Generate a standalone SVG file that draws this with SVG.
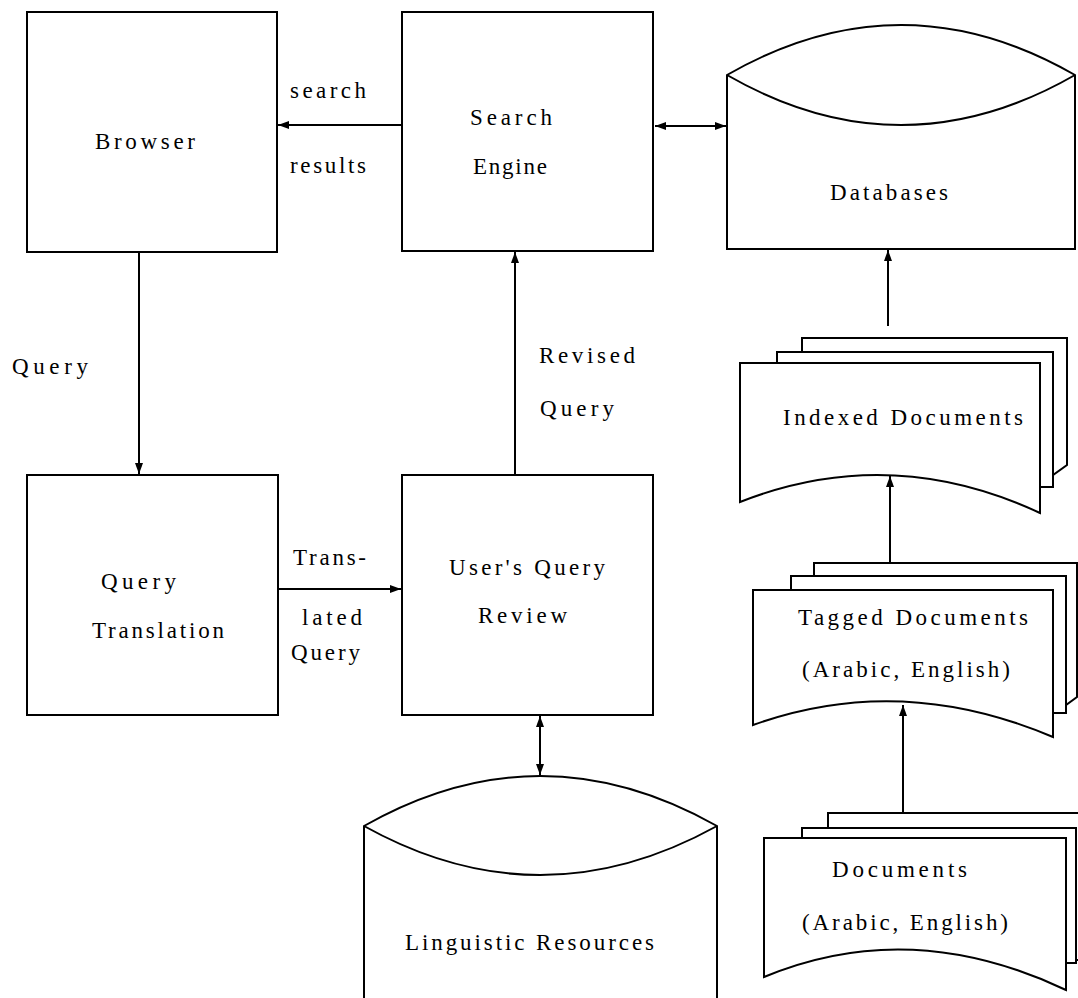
<svg xmlns="http://www.w3.org/2000/svg" width="1078" height="998" viewBox="0 0 1078 998">
<style>
.s{fill:#fff;stroke:#000;stroke-width:2;stroke-linejoin:miter}
.c{fill:none;stroke:#000;stroke-width:2}
text{font-family:"Liberation Serif","Times New Roman",serif;font-size:23px;fill:#000}
</style>
<defs>
<marker id="ah" markerUnits="userSpaceOnUse" markerWidth="12" markerHeight="10" refX="11" refY="5" orient="auto-start-reverse" viewBox="0 0 12 10">
<path d="M0,1 L11,5 L0,9 z" fill="#000"/>
</marker>
</defs>
<rect width="1078" height="998" fill="#fff"/>
<g id="browser">
<rect class="s" x="27" y="12" width="250" height="240"/>
<text x="95" y="149" textLength="100" lengthAdjust="spacing">Browser</text>
</g>
<g id="search-engine">
<rect class="s" x="402" y="12" width="251" height="239"/>
<text x="470" y="125" textLength="82" lengthAdjust="spacing">Search</text>
<text x="473" y="174" textLength="74" lengthAdjust="spacing">Engine</text>
</g>
<g id="databases">
<path class="s" d="M727,75 Q901,-25 1075,75 V249 H727 Z"/>
<path class="c" d="M727,75 Q901,175 1075,75"/>
<text x="830" y="200" textLength="118" lengthAdjust="spacing">Databases</text>
</g>
<g id="query-translation">
<rect class="s" x="27" y="475" width="251" height="240"/>
<text x="101" y="589" textLength="75" lengthAdjust="spacing">Query</text>
<text x="92" y="638" textLength="132" lengthAdjust="spacing">Translation</text>
</g>
<g id="users-query-review">
<rect class="s" x="402" y="475" width="251" height="240"/>
<text x="449" y="575" textLength="156" lengthAdjust="spacing">User's Query</text>
<text x="478" y="623" textLength="89" lengthAdjust="spacing">Review</text>
</g>
<g id="linguistic-resources">
<path class="s" d="M364,1000 V826 Q540,726 717,826 V1000"/>
<path class="c" d="M364,826 Q540,924 717,826"/>
<text x="405" y="950" textLength="249" lengthAdjust="spacing">Linguistic Resources</text>
</g>
<g id="indexed-documents">
<path class="s" d="M802,352 V338 H1067 V465 L1053,475 V352 Z"/>
<path class="s" d="M777,363 V352 H1053 V487 H1040 V363 Z"/>
<path class="s" d="M740,363 H1040 V513 Q890,443 740,502 Z"/>
<text x="783" y="425" textLength="240" lengthAdjust="spacing">Indexed Documents</text>
</g>
<g id="tagged-documents">
<path class="s" d="M814,576 V563 H1077 V697 L1066,705 V576 Z"/>
<path class="s" d="M791,590 V576 H1066 V713 H1053 V590 Z"/>
<path class="s" d="M753,590 H1053 V737 Q900,672 753,725 Z"/>
<text x="798" y="625" textLength="230" lengthAdjust="spacing">Tagged Documents</text>
<text x="802" y="677" textLength="208" lengthAdjust="spacing">(Arabic, English)</text>
</g>
<g id="documents">
<path class="s" d="M828,828 V813 H1080 V960 H1076 V828 Z"/>
<path class="s" d="M802,838 V828 H1076 V963 H1066 V838 Z"/>
<path class="s" d="M764,838 H1066 V990 Q910,916 764,977 Z"/>
<text x="832" y="877" textLength="135" lengthAdjust="spacing">Documents</text>
<text x="802" y="930" textLength="206" lengthAdjust="spacing">(Arabic, English)</text>
</g>
<g id="connectors">
<line class="c" x1="402" y1="125" x2="278" y2="125" marker-end="url(#ah)"/>
<line class="c" x1="655" y1="126" x2="726" y2="126" marker-start="url(#ah)" marker-end="url(#ah)"/>
<line class="c" x1="139" y1="252" x2="139" y2="474" marker-end="url(#ah)"/>
<line class="c" x1="278" y1="589" x2="401" y2="589" marker-end="url(#ah)"/>
<line class="c" x1="515" y1="475" x2="515" y2="252" marker-end="url(#ah)"/>
<line class="c" x1="540" y1="716" x2="540" y2="775" marker-start="url(#ah)" marker-end="url(#ah)"/>
<line class="c" x1="888" y1="326" x2="888" y2="250" marker-end="url(#ah)"/>
<line class="c" x1="890" y1="563" x2="890" y2="476" marker-end="url(#ah)"/>
<line class="c" x1="903" y1="813" x2="903" y2="705" marker-end="url(#ah)"/>
</g>
<g id="labels">
<text x="290" y="98" textLength="76" lengthAdjust="spacing">search</text>
<text x="290" y="173" textLength="76" lengthAdjust="spacing">results</text>
<text x="12" y="374" textLength="76" lengthAdjust="spacing">Query</text>
<text x="539" y="363" textLength="96" lengthAdjust="spacing">Revised</text>
<text x="540" y="416" textLength="74" lengthAdjust="spacing">Query</text>
<text x="293" y="565" textLength="73" lengthAdjust="spacing">Trans-</text>
<text x="302" y="625" textLength="60" lengthAdjust="spacing">lated</text>
<text x="291" y="660" textLength="69" lengthAdjust="spacing">Query</text>
</g>
</svg>
